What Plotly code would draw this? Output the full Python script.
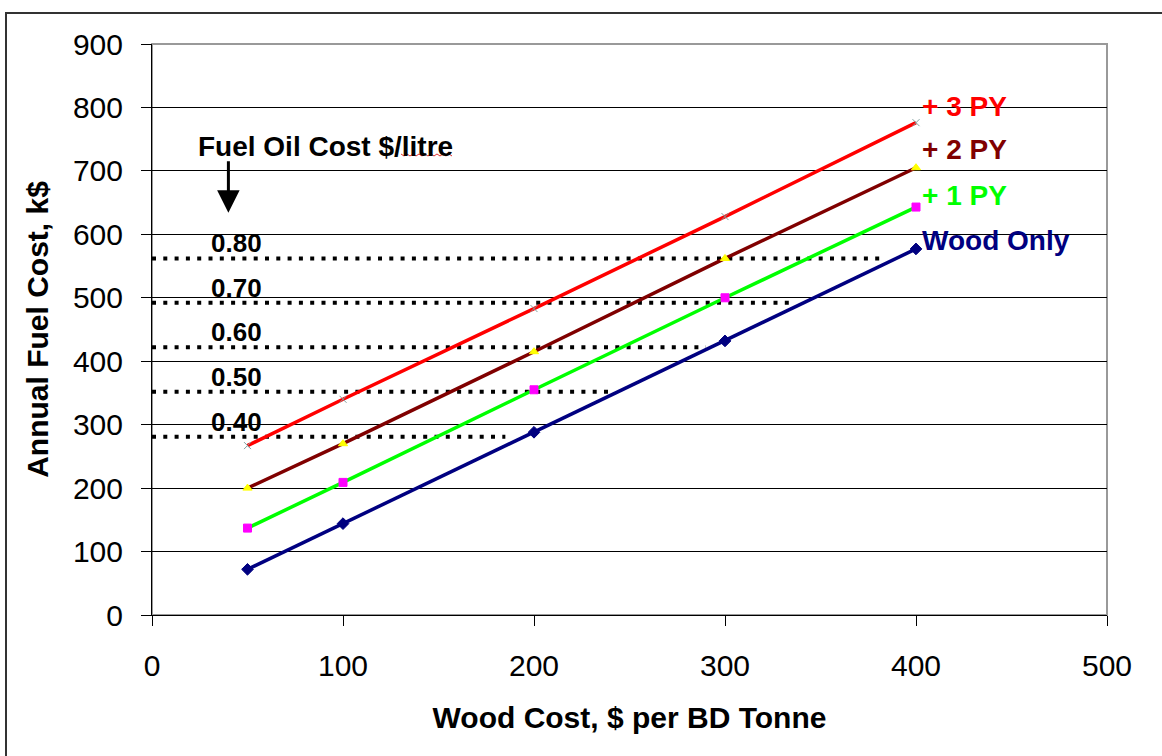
import plotly.graph_objects as go

# ---------------- data ----------------
wood_cost = [50, 100, 200, 300, 400]
wood_only = [72, 144, 288, 432, 577]
plus_1py = [137, 209, 355, 500, 643]
plus_2py = [200, 270, 415, 562, 705]
plus_3py = [267, 340, 483, 628, 776]

series_names = ["Wood Only", "+ 1 PY", "+ 2 PY", "+ 3 PY"]
series_values = [wood_only, plus_1py, plus_2py, plus_3py]

fuel_oil_labels = ["0.40", "0.50", "0.60", "0.70", "0.80"]
fuel_oil_cost = [281, 352, 422, 492, 562]
fuel_oil_line_end = [185, 241, 290, 334, 384]

x_ticks = [0, 100, 200, 300, 400, 500]
y_ticks = [0, 100, 200, 300, 400, 500, 600, 700, 800, 900]

# series label positions (text placed at right end of lines)
label_y = [590, 662, 733, 801]

# ---------------- styles ----------------
line_colors = ["#000080", "#00FF00", "#800000", "#FF0000"]
marker_symbols = ["diamond", "square", "triangle-up", "x-thin-open"]
marker_colors = ["#000080", "#FF00FF", "#FFFF00", "#7F9F9F"]
marker_sizes = [9, 8, 8, 7]

FONT = "Arial, Liberation Sans, sans-serif"

fig = go.Figure()

# dotted fuel oil reference lines
for lab, v, xe in zip(fuel_oil_labels, fuel_oil_cost, fuel_oil_line_end):
    fig.add_trace(go.Scatter(
        x=[0, xe], y=[v, v], mode="lines",
        line=dict(color="black", width=4, dash="4px,7.3px"),
        showlegend=False, hoverinfo="skip"))
    fig.add_annotation(x=30, y=v, text="<b>" + lab + "</b>", showarrow=False,
                       xanchor="left", yanchor="bottom", yshift=-2,
                       font=dict(family=FONT, size=26, color="black"))

for name, vals, lc, ms, mc, msz in zip(series_names, series_values, line_colors,
                                       marker_symbols, marker_colors, marker_sizes):
    fig.add_trace(go.Scatter(
        x=wood_cost, y=vals, mode="lines+markers", name=name,
        line=dict(color=lc, width=3.5),
        marker=dict(symbol=ms, color=mc, size=msz,
                    line=dict(color=mc, width=1)),
        showlegend=False))

for name, ly, lc in zip(series_names, label_y, line_colors):
    fig.add_annotation(x=402, y=ly, text="<b>" + name + "</b>", showarrow=False,
                       xanchor="left", yanchor="middle",
                       font=dict(family=FONT, size=28, color=lc))

# Fuel Oil Cost title and arrow
fig.add_annotation(x=23, y=738, text="<b>Fuel Oil Cost $/litre</b>", showarrow=False,
                   xanchor="left", yanchor="middle",
                   font=dict(family=FONT, size=28, color="black"))
fig.add_annotation(x=40, y=634, text="", showarrow=True, ax=0, ay=-53,
                   arrowhead=2, arrowsize=1.5, arrowwidth=3, arrowcolor="black")

# spell-check squiggle under "litre"
px0, px1, py = 401, 452, 154
zig = "M %f %f" % ((px0 - 152) / 955, (615 - py) / 571)
k = 0
for xp in range(px0 + 3, px1 + 1, 3):
    yy = py + (2 if k % 2 == 0 else 0)
    zig += " L %f %f" % ((xp - 152) / 955, (615 - yy) / 571)
    k += 1
fig.add_shape(type="path", xref="paper", yref="paper", path=zig,
              line=dict(color="#E03030", width=1))

# outer chart border (partly off-canvas) and plot-area border
fig.add_shape(type="rect", xref="paper", yref="paper",
              x0=(6 - 152) / 955, x1=(1185 - 152) / 955,
              y0=(615 - 780) / 571, y1=(615 - 13) / 571,
              line=dict(color="#333333", width=2), layer="below")
fig.add_shape(type="rect", xref="paper", yref="paper", x0=0, x1=1, y0=0, y1=1,
              line=dict(color="#999999", width=2), layer="below")

fig.update_layout(
    width=1162, height=756,
    margin=dict(l=152, r=55, t=44, b=141),
    paper_bgcolor="white", plot_bgcolor="white",
    font=dict(family=FONT, color="black"),
    showlegend=False,
)
fig.update_xaxes(
    range=[0, 500], tickvals=x_ticks, ticktext=[str(t) for t in x_ticks],
    showgrid=False, zeroline=False,
    showline=True, linecolor="black", linewidth=1,
    ticks="outside", ticklen=10, tickcolor="black",
    tickfont=dict(family=FONT, size=30), ticklabelstandoff=14,
    title=dict(text="<b>Wood Cost, $ per BD Tonne</b>", font=dict(family=FONT, size=30),
               standoff=25),
)
fig.update_yaxes(
    range=[0, 900], tickvals=y_ticks, ticktext=[str(t) for t in y_ticks],
    showgrid=True, gridcolor="black", gridwidth=1, zeroline=False,
    showline=True, linecolor="black", linewidth=1,
    ticks="outside", ticklen=10, tickcolor="black",
    tickfont=dict(family=FONT, size=30), ticklabelstandoff=12,
    title=dict(text="<b>Annual Fuel Cost, k$</b>", font=dict(family=FONT, size=30),
               standoff=15),
)

fig.write_html("out.html")
